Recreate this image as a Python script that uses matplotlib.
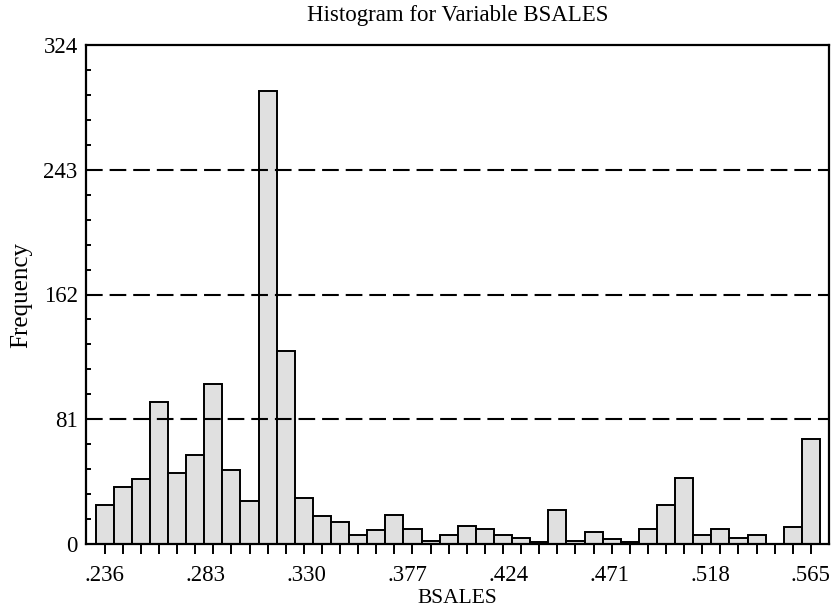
import numpy as np
import matplotlib
matplotlib.use("Agg")
import matplotlib.pyplot as plt
from matplotlib.ticker import FixedLocator, MultipleLocator

# bin centres run from .236 to .565 in 40 equal bins
first_center = 0.236
last_center = 0.565
counts = [25, 37, 42, 92, 46, 58, 104, 48, 28, 294,
          125, 30, 18, 14, 6, 9, 19, 10, 2, 6,
          12, 10, 6, 4, 1, 22, 2, 8, 3, 1,
          10, 25, 43, 6, 10, 4, 6, 0, 11, 68]
x_labels = [".236", ".283", ".330", ".377", ".424", ".471", ".518", ".565"]
y_ticks = [0, 81, 162, 243, 324]
grid_levels = [81, 162, 243]

plt.rcParams['font.family'] = ['Liberation Serif', 'DejaVu Serif']
plt.rcParams['lines.scale_dashes'] = False

n = len(counts)
width = (last_center - first_center) / (n - 1)
centers = first_center + width * np.arange(n)

fig = plt.figure(figsize=(8.32, 6.15), dpi=100)
ax = fig.add_axes([86 / 832, 1 - 544 / 615, (829 - 86) / 832, (544 - 45) / 615])

ax.bar(centers, counts, width=width, color='#e0e0e0', edgecolor='black',
       linewidth=1.4, zorder=2)

for lvl in grid_levels:
    ax.axhline(lvl, color='black', lw=1.5, linestyle=(0, (12, 5)), zorder=3)

ax.set_xlim(first_center - 1.03 * width, last_center + 1.0 * width)
ax.set_ylim(0, 324)

# labelled positions have no tick mark, bin centres get the marks
ax.xaxis.remove_overlapping_locs = False
ax.xaxis.set_major_locator(FixedLocator([float(s) for s in x_labels]))
ax.set_xticklabels(x_labels)
ax.xaxis.set_minor_locator(FixedLocator(centers))
ax.tick_params(axis='x', which='major', length=0, pad=15, labelsize=16.5)
ax.tick_params(axis='x', which='minor', direction='out', length=7.5, width=1.4)

ax.set_yticks(y_ticks)
ax.set_yticklabels([str(v) for v in y_ticks])
ax.yaxis.set_minor_locator(MultipleLocator(16.2))
ax.tick_params(axis='y', which='major', direction='in', length=5, width=1.4,
               pad=6, labelsize=16.5)
ax.tick_params(axis='y', which='minor', direction='in', length=3.5, width=1.4)

for sp in ax.spines.values():
    sp.set_linewidth(1.6)

ax.set_xlabel("BSALES", fontsize=15.5, labelpad=2)
ax.set_ylabel("Frequency", fontsize=18, labelpad=8)
ax.set_title("Histogram for Variable BSALES", fontsize=16.5, pad=17)

fig.savefig("out.png", dpi=100)
